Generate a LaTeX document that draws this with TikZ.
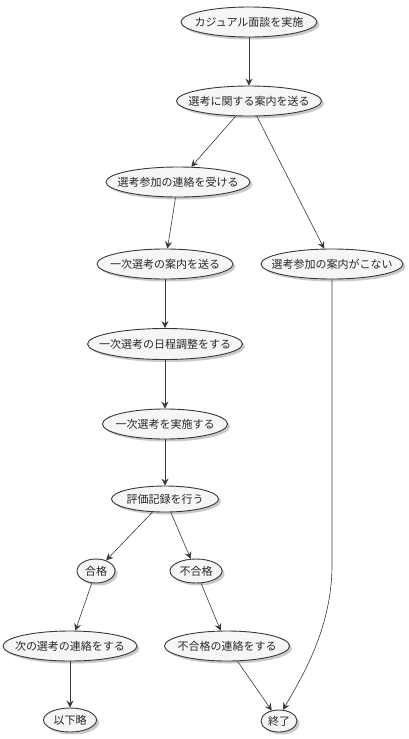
\documentclass[tikz,border=0pt]{standalone}
\usepackage{fontspec}
\newfontfamily\jpfont{Noto Sans CJK JP}
\usepackage{xcolor}
\usepackage{tikz}
\usetikzlibrary{shapes.geometric}
\usetikzlibrary{shadows}
\usetikzlibrary{arrows.meta}
\definecolor{ovalfill}{HTML}{F6F6F6}
\definecolor{ovalline}{HTML}{383838}
\newcommand{\ovtext}[1]{\makebox[0pt]{#1}}

\begin{document}
\begin{tikzpicture}[x=1pt,y=-1pt,
	oval/.style={ellipse,draw=ovalline,line width=0.9pt,fill=ovalfill,inner sep=0pt,
		drop shadow={shadow xshift=2.5pt,shadow yshift=-2.5pt,fill=black!35,opacity=0.6},
		font=\jpfont\fontsize{11}{13}\selectfont,text=black!85},
	arr/.style={draw=ovalline,line width=0.6pt,-{Stealth[length=7pt,width=7pt,inset=2.5pt]}}]
\useasboundingbox (0,0) rectangle (409,739);
\node[oval,minimum width=136pt,minimum height=30pt] (A) at (249,22) {\ovtext{カジュアル面談を実施}};
\node[oval,minimum width=145pt,minimum height=30pt] (B) at (249,101) {\ovtext{選考に関する案内を送る}};
\node[oval,minimum width=144pt,minimum height=30pt] (C) at (178,182) {\ovtext{選考参加の連絡を受ける}};
\node[oval,minimum width=142pt,minimum height=30pt] (D) at (332,264) {\ovtext{選考参加の案内がこない}};
\node[oval,minimum width=136pt,minimum height=30pt] (E) at (165,264) {\ovtext{一次選考の案内を送る}};
\node[oval,minimum width=155pt,minimum height=31pt] (F) at (165,344) {\ovtext{一次選考の日程調整をする}};
\node[oval,minimum width=125pt,minimum height=30pt] (G) at (165,424) {\ovtext{一次選考を実施する}};
\node[oval,minimum width=107pt,minimum height=26pt] (H) at (165,499) {\ovtext{評価記録を行う}};
\node[oval,minimum width=38pt,minimum height=24pt] (I) at (96,571) {\ovtext{合格}};
\node[oval,minimum width=52pt,minimum height=24pt] (J) at (196,571) {\ovtext{不合格}};
\node[oval,minimum width=134pt,minimum height=30pt] (K) at (70,646) {\ovtext{次の選考の連絡をする}};
\node[oval,minimum width=125pt,minimum height=30pt] (L) at (227,646) {\ovtext{不合格の連絡をする}};
\node[oval,minimum width=53pt,minimum height=24pt] (M) at (70,720) {\ovtext{以下略}};
\node[oval,minimum width=36pt,minimum height=22pt] (N) at (279,721) {\ovtext{終了}};
\coordinate (Dk) at (332,565);
\draw[arr] (A) -- (B);
\draw[arr] (B) -- (C);
\draw[arr] (B) -- (D);
\draw[arr] (C) -- (E);
\draw[arr] (E) -- (F);
\draw[arr] (F) -- (G);
\draw[arr] (G) -- (H);
\draw[arr] (H) -- (I);
\draw[arr] (H) -- (J);
\draw[arr] (I) -- (K);
\draw[arr] (J) -- (L);
\draw[arr] (K) -- (M);
\draw[arr] (L) -- (N);
\draw[arr] (D) -- (Dk) .. controls (332,630) and (300,680) .. (N.70);
\end{tikzpicture}
\end{document}
